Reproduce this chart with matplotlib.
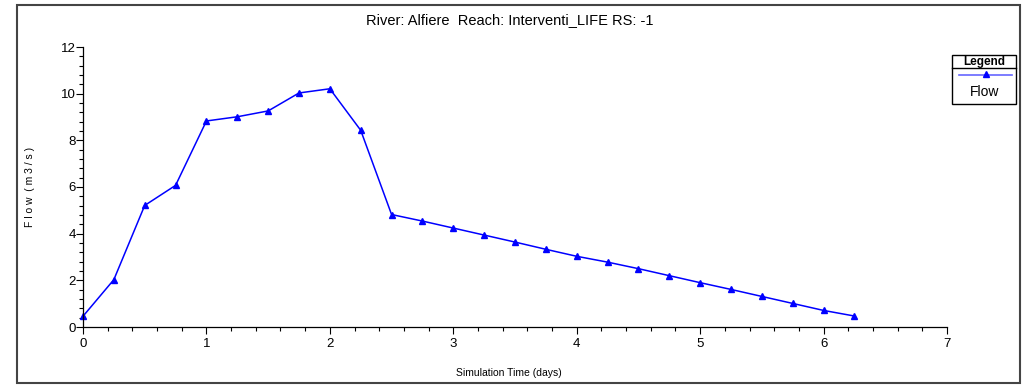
import matplotlib.pyplot as plt
from matplotlib.patches import Rectangle
from matplotlib.lines import Line2D
from matplotlib.ticker import MultipleLocator

plt.rcParams['font.family'] = ['Liberation Sans', 'DejaVu Sans']

# time in days, flow in m3/s
time_days = [0, 0.25, 0.5, 0.75, 1.0, 1.25, 1.5, 1.75, 2.0, 2.25, 2.5, 2.75, 3.0,
             3.25, 3.5, 3.75, 4.0, 4.25, 4.5, 4.75, 5.0, 5.25, 5.5, 5.75, 6.0, 6.25]
flow = [0.46, 2.03, 5.21, 6.07, 8.83, 9.01, 9.26, 10.03, 10.21, 8.43, 4.82, 4.54, 4.24,
        3.94, 3.64, 3.33, 3.03, 2.78, 2.50, 2.20, 1.90, 1.61, 1.31, 1.01, 0.71, 0.47]

W, H = 1025, 385
fig = plt.figure(figsize=(W / 100, H / 100), dpi=100)
ax = fig.add_axes([83 / W, 1 - 327 / H, (947 - 83) / W, (327 - 47) / H])

ax.plot(time_days, flow, color='#0000ff', lw=1.1, marker='^', ms=4.5,
        markeredgecolor='#0000ff', markerfacecolor='#0000ff', clip_on=False)

ax.set_xlim(0, 7)
ax.set_ylim(0, 12)
ax.xaxis.set_major_locator(MultipleLocator(1))
ax.xaxis.set_minor_locator(MultipleLocator(0.2))
ax.yaxis.set_major_locator(MultipleLocator(2))
ax.yaxis.set_minor_locator(MultipleLocator(0.4))
ax.tick_params(which='major', length=5, width=0.8, labelsize=9.5, colors='black')
ax.tick_params(which='minor', length=3, width=0.8)
ax.tick_params(axis='y', pad=0)
ax.tick_params(axis='x', pad=3)
for s in ['top', 'right']:
    ax.spines[s].set_visible(False)
for s in ['left', 'bottom']:
    ax.spines[s].set_linewidth(0.9)

fig.text(510 / W, 1 - 20 / H, 'River: Alfiere  Reach: Interventi_LIFE RS: -1',
         ha='center', va='center', fontsize=10.5)
fig.text(509 / W, 1 - 373 / H, 'Simulation Time (days)', ha='center', va='center', fontsize=7.5)
fig.text(30 / W, 1 - 187 / H, 'F l o w  ( m 3 / s )', ha='center', va='center',
         rotation=90, fontsize=7.5)

# outer frame
fig.add_artist(Rectangle((17 / W, 1 - 383 / H), (1020 - 17) / W, (383 - 5) / H,
                         transform=fig.transFigure, fill=False, ec='#444444', lw=1.5))

# legend box
lx0, lx1, ly0, ly1, lsep = 952, 1016, 55, 104, 68
fig.add_artist(Rectangle((lx0 / W, 1 - ly1 / H), (lx1 - lx0) / W, (ly1 - ly0) / H,
                         transform=fig.transFigure, fill=False, ec='black', lw=1.0))
fig.add_artist(Line2D([lx0 / W, lx1 / W], [1 - lsep / H, 1 - lsep / H],
                      transform=fig.transFigure, color='black', lw=1.0))
fig.text(984 / W, 1 - 61.5 / H, 'Legend', ha='center', va='center', fontsize=8.5,
         fontweight='bold')
fig.add_artist(Line2D([959 / W, 1012 / W], [1 - 75 / H, 1 - 75 / H],
                      transform=fig.transFigure, color='#6666ff', lw=1.2))
fig.add_artist(Line2D([985.5 / W], [1 - 74 / H], transform=fig.transFigure,
                      color='#0000ff', marker='^', ms=4, lw=0))
fig.text(985 / W, 1 - 92 / H, 'Flow', ha='center', va='center', fontsize=10)

fig.savefig('out.png', dpi=100)
